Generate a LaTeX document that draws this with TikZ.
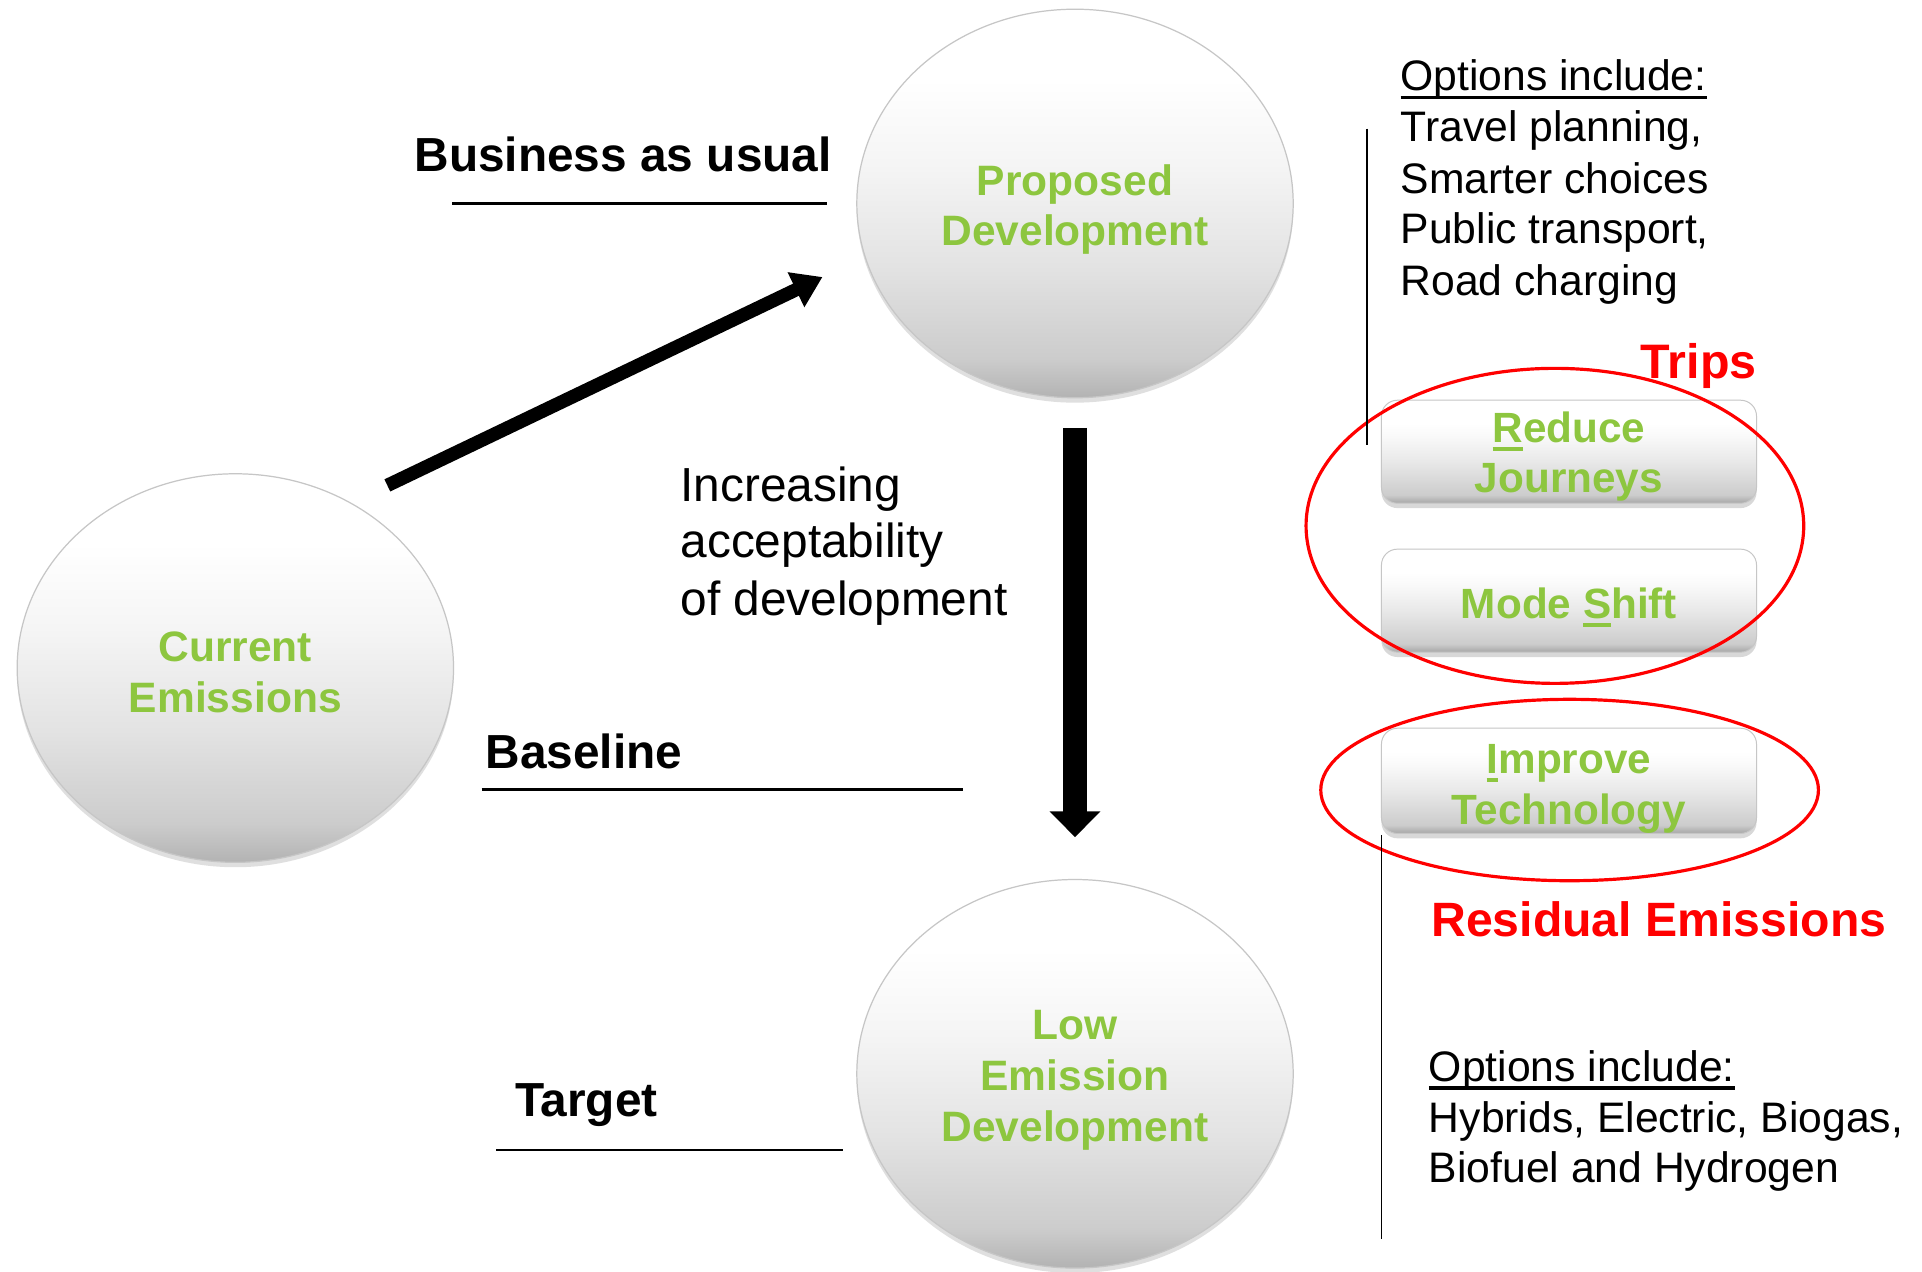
\documentclass[tikz,border=0pt]{standalone}
\usepackage{fontspec}
\setmainfont{Liberation Sans}
\usetikzlibrary{arrows.meta,shapes.geometric,shadows}
\definecolor{leafgreen}{RGB}{141,198,63}
\definecolor{ringred}{RGB}{255,0,0}
\pgfdeclareverticalshading{bubbleshade}{100bp}{color(0bp)=(gray!60); color(25bp)=(gray!60); color(30bp)=(gray!40); color(42bp)=(gray!22); color(55bp)=(gray!8); color(66bp)=(white); color(100bp)=(white)}
\pgfdeclareverticalshading{btnshade}{100bp}{color(0bp)=(gray!70); color(25bp)=(gray!70); color(29bp)=(gray!40); color(45bp)=(gray!18); color(58bp)=(gray!4); color(64bp)=(white); color(100bp)=(white)}
\newcommand{\myul}[1]{\leavevmode\setbox0\hbox{#1}\rlap{\rule[-0.2em]{\wd0}{0.09em}}\box0}
\newcommand{\txtlift}[1][35pt]{\rule{0pt}{#1}}
\begin{document}
\begin{tikzpicture}[x=1pt,y=-1pt,
  bubble/.style={ellipse, minimum width=356pt, minimum height=317pt, inner sep=0pt, shading=bubbleshade, draw=gray!45, line width=1pt, drop shadow={shadow xshift=0pt, shadow yshift=-4pt, opacity=0.25}, text=leafgreen, font=\bfseries\fontsize{34.7}{41.5}\selectfont, align=center},
  btn/.style={rectangle, rounded corners=13pt, minimum width=306pt, minimum height=84pt, inner sep=0pt, shading=btnshade, draw=gray!45, line width=0.8pt, drop shadow={shadow xshift=0pt, shadow yshift=-4pt, opacity=0.3}, text=leafgreen, font=\bfseries\fontsize{34.5}{41.5}\selectfont, align=center},
  headlbl/.style={font=\bfseries\fontsize{39}{46}\selectfont, inner sep=0pt, anchor=base west},
  redlbl/.style={headlbl, text=ringred},
  plainlbl/.style={font=\fontsize{39}{46}\selectfont, inner sep=0pt, anchor=base west},
  optlbl/.style={font=\fontsize{34.8}{41.5}\selectfont, inner sep=0pt, anchor=base west},
  ring/.style={ellipse, draw=ringred, line width=2.6pt, inner sep=0pt},
  thinrule/.style={draw=black, line width=2pt},
  sidebar/.style={draw=black, line width=1.4pt},
  fatarrow/.style={draw=black, line width=11pt, -{Triangle[width=30pt,length=24pt]}},
  downarrow/.style={draw=black, line width=19pt, -{Triangle[width=40pt,length=21pt]}}
]
\useasboundingbox (0,0) rectangle (1568,1037);
\fill[white] (0,0) rectangle (1568,1037);

% circles
\node[bubble] (cur) at (192,545) {\txtlift[31pt]Current\\Emissions};
\node[bubble] (prop) at (877,166) {\txtlift[35pt]Proposed\\Development};
\node[bubble] (low) at (877,876) {\txtlift[35pt]Low\\Emission\\Development};

% arrows
\coordinate (growS) at (316,396);
\coordinate (growE) at (671,226);
\draw[fatarrow] (growS) -- (growE);
\draw[downarrow, shorten <=24pt, shorten >=34pt] (prop.south) -- (low.north);

% left labels
\node[headlbl] (bau) at (338,139.5) {Business as usual};
\coordinate (bauL) at (369,166); \coordinate (bauR) at (675,166);
\draw[thinrule] (bauL) -- (bauR);
\node[headlbl] (baseline) at (396,627) {Baseline};
\coordinate (baseL) at (393,644); \coordinate (baseR) at (786,644);
\draw[thinrule] (baseL) -- (baseR);
\node[headlbl] (target) at (420,911) {Target};
\coordinate (tgtL) at (405,938); \coordinate (tgtR) at (688,938);
\draw[thinrule] (tgtL) -- (tgtR);

\node[plainlbl] (inc1) at (555,409) {Increasing};
\node[plainlbl] (inc2) at (555,455) {acceptability};
\node[plainlbl] (inc3) at (555,502) {of development};

% right column
\node[optlbl] (opt1) at (1142.5,74.2) {\myul{Options include:}};
\node[optlbl] (opt2) at (1142.5,115.6) {Travel planning,};
\node[optlbl] (opt3) at (1142.5,157.7) {Smarter choices};
\node[optlbl] (opt4) at (1142.5,198.5) {Public transport,};
\node[optlbl] (opt5) at (1142.5,240.7) {Road charging};

\node[btn] (reduce) at (1280,368.5) {\txtlift[33pt]\myul{R}educe\\Journeys};
\node[btn] (mode) at (1280,490) {\txtlift[36.5pt]Mode \myul{S}hift};
\node[btn] (improve) at (1280,637) {\txtlift[37pt]\myul{I}mprove\\Technology};

\node[ring, minimum width=406pt, minimum height=257pt] (tripsring) at (1268.5,429) {};
\node[ring, minimum width=406pt, minimum height=148pt] (techring) at (1280.5,644.5) {};

\node[redlbl, font=\bfseries\fontsize{39.5}{46}\selectfont] (trips) at (1338.5,308.6) {Trips};
\node[redlbl, font=\bfseries\fontsize{39.3}{46}\selectfont] (resid) at (1167.5,764) {Residual Emissions};

\node[optlbl] (topt1) at (1165.5,882.4) {\myul{Options include:}};
\node[optlbl] (topt2) at (1165.5,923.5) {Hybrids, Electric, Biogas,};
\node[optlbl] (topt3) at (1165.5,965) {Biofuel and Hydrogen};

\coordinate (bar1t) at (1115,105); \coordinate (bar1b) at (1115,363);
\draw[sidebar] (bar1t) -- (bar1b);
\coordinate (bar2t) at (1127,681); \coordinate (bar2b) at (1127,1011);
\draw[sidebar] (bar2t) -- (bar2b);
\end{tikzpicture}
\end{document}
